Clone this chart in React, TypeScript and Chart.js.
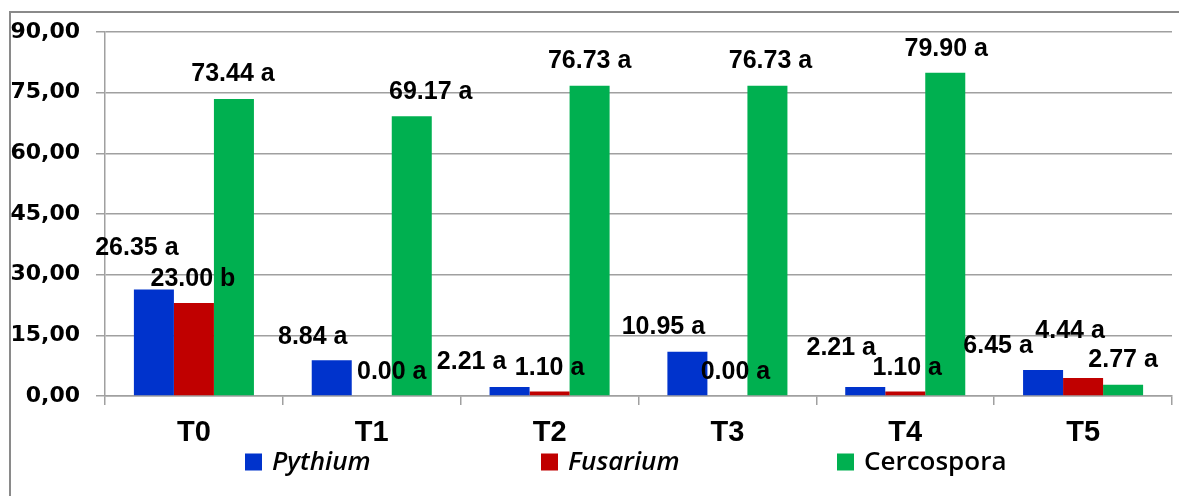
import { useEffect, useRef } from "react";
import { Chart, registerables } from "chart.js";

Chart.register(...registerables);

// ---- data ----
const categories = ["T0", "T1", "T2", "T3", "T4", "T5"];
const seriesNames = ["Pythium", "Fusarium", "Cercospora"];
const pythium = [26.35, 8.84, 2.21, 10.95, 2.21, 6.45];
const fusarium = [23.0, 0.0, 1.1, 0.0, 1.1, 4.44];
const cercospora = [73.44, 69.17, 76.73, 76.73, 79.9, 2.77];
const pythiumLetters = ["a", "a", "a", "a", "a", "a"];
const fusariumLetters = ["b", "a", "a", "a", "a", "a"];
const cercosporaLetters = ["a", "a", "a", "a", "a", "a"];
const yMin = 0;
const yMax = 90;
const yStep = 15;

// ---- styles ----
const COLORS = ["#0033CC", "#C00000", "#00B050"];
const LEGEND_ITALIC = [true, true, false];
const GRID = "#a0a0a0";
// label nudges (dx, dy) relative to bar top centre, manual placement as in the original
const LABEL_NUDGE: number[][][] = [
  [[-17, -43], [-19, -25], [-38, -27], [-24, -27], [-24, -41], [-45, -26]],
  [[-1, -26], [20, -26], [0, -26], [8, -26], [2, -26], [-13, -49]],
  [[-1, -27], [19, -26], [0, -27], [3, -27], [1, -26], [0, -27]],
];

const letters = [pythiumLetters, fusariumLetters, cercosporaLetters];

const framePlugin = {
  id: "frame",
  beforeDraw(chart: any) {
    const ctx = chart.ctx;
    ctx.save();
    ctx.fillStyle = "#ffffff";
    ctx.fillRect(0, 0, chart.width, chart.height);
    ctx.strokeStyle = "#8a8a8a";
    ctx.lineWidth = 2;
    ctx.beginPath();
    ctx.moveTo(10, chart.height);
    ctx.lineTo(10, 12);
    ctx.lineTo(chart.width, 12);
    ctx.stroke();
    ctx.restore();
  },
};

const labelPlugin = {
  id: "barLabels",
  afterDatasetsDraw(chart: any) {
    const ctx = chart.ctx;
    ctx.save();
    ctx.font = "bold 25px 'Liberation Sans', Arial, sans-serif";
    ctx.fillStyle = "#000000";
    ctx.textAlign = "center";
    ctx.textBaseline = "alphabetic";
    chart.data.datasets.forEach((ds: any, i: number) => {
      const meta = chart.getDatasetMeta(i);
      meta.data.forEach((bar: any, j: number) => {
        const v = ds.data[j] as number;
        const text = v.toFixed(2) + " " + letters[i][j];
        const [dx, dy] = LABEL_NUDGE[i][j];
        ctx.fillText(text, bar.x + dx, bar.y + dy + 9);
      });
    });
    ctx.restore();
  },
};

const legendPlugin = {
  id: "customLegend",
  afterDraw(chart: any) {
    const ctx = chart.ctx;
    ctx.save();
    const startX = 245;
    const spacing = 296;
    const cy = 462;
    chart.data.datasets.forEach((ds: any, i: number) => {
      const x = startX + i * spacing;
      ctx.fillStyle = ds.backgroundColor;
      ctx.fillRect(x, cy - 8.5, 17, 17);
      ctx.fillStyle = "#000000";
      ctx.font = (LEGEND_ITALIC[i] ? "italic " : "") + "600 26px 'Open Sans', sans-serif";
      ctx.textAlign = "left";
      ctx.textBaseline = "middle";
      ctx.fillText(ds.label, x + 27, cy + 1);
    });
    ctx.restore();
  },
};

export default function App() {
  const ref = useRef<HTMLCanvasElement | null>(null);

  useEffect(() => {
    if (!ref.current) return;
    const seriesData = [pythium, fusarium, cercospora];
    const chart = new Chart(ref.current, {
      type: "bar",
      data: {
        labels: categories,
        datasets: seriesNames.map((name, i) => ({
          label: name,
          data: seriesData[i],
          backgroundColor: COLORS[i],
          borderWidth: 0,
          barPercentage: 1,
          categoryPercentage: 0.675,
        })),
      },
      options: {
        responsive: false,
        animation: false,
        devicePixelRatio: 1,
        layout: { padding: { left: 0, top: 32, right: 7, bottom: 0 } },
        plugins: {
          legend: { display: false },
          tooltip: { enabled: false },
          title: { display: false },
        },
        scales: {
          x: {
            afterFit(scale: any) {
              scale.height = 100;
            },
            grid: {
              display: true,
              drawOnChartArea: false,
              drawTicks: true,
              tickLength: 9,
              color: GRID,
              lineWidth: 1.5,
            },
            border: { display: true, color: GRID, width: 1.5 },
            ticks: {
              color: "#000000",
              padding: 11,
              font: { family: "'Liberation Sans', Arial, sans-serif", size: 29, weight: "bold" },
            },
          },
          y: {
            min: yMin,
            max: yMax,
            afterFit(scale: any) {
              scale.width = 105;
            },
            grid: {
              color: GRID,
              lineWidth: 1.5,
              drawTicks: true,
              tickLength: 9,
            },
            border: { display: true, color: GRID, width: 1.5 },
            ticks: {
              stepSize: yStep,
              color: "#000000",
              padding: 16,
              font: { family: "'DejaVu Sans', sans-serif", size: 22, weight: "bold" },
              callback: (v: any) => Number(v).toFixed(2).replace(".", ","),
            },
          },
        },
      },
      plugins: [framePlugin, labelPlugin, legendPlugin],
    });
    return () => chart.destroy();
  }, []);

  return (
    <div style={{ position: "absolute", left: 0, top: 0, width: 1179, height: 496 }}>
      <canvas ref={ref} width={1179} height={496} style={{ width: 1179, height: 496, display: "block" }} />
    </div>
  );
}
